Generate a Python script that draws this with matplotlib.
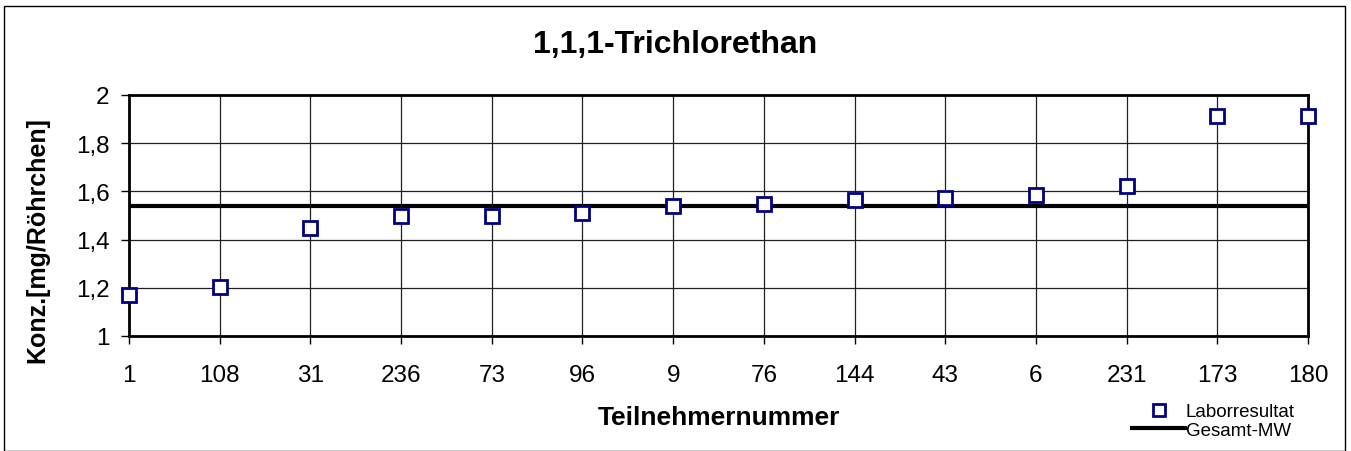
import matplotlib
matplotlib.use('Agg')
import matplotlib.pyplot as plt
from matplotlib.ticker import FuncFormatter
from matplotlib.patches import Rectangle

plt.rcParams['font.family'] = ['Liberation Sans', 'DejaVu Sans']

teilnehmer = ['1', '108', '31', '236', '73', '96', '9', '76', '144', '43', '6', '231', '173', '180']
laborresultat = [1.171, 1.202, 1.448, 1.499, 1.499, 1.510, 1.538, 1.548, 1.564, 1.571, 1.586, 1.621, 1.912, 1.912]
gesamt_mw = 1.539

W, H = 1351, 452
fig = plt.figure(figsize=(W / 100, H / 100), dpi=100)
ax = fig.add_axes([129 / W, 1 - 337 / H, (1308 - 129) / W, (337 - 96) / H])

x = list(range(len(teilnehmer)))
ax.plot(x, laborresultat, linestyle='none', marker='s', markersize=10.5,
        markerfacecolor='white', markeredgecolor='#000080', markeredgewidth=2,
        clip_on=False, zorder=4, label='Laborresultat')
ax.plot([x[0], x[-1]], [gesamt_mw, gesamt_mw], color='black', linewidth=3,
        zorder=3, label='Gesamt-MW')

ax.set_xlim(0, len(teilnehmer) - 1)
ax.set_ylim(1, 2)
ax.set_xticks(x)
ax.set_xticklabels(teilnehmer)
ax.set_yticks([1, 1.2, 1.4, 1.6, 1.8, 2])
ax.yaxis.set_major_formatter(FuncFormatter(lambda v, p: ('%g' % round(v, 1)).replace('.', ',')))
ax.tick_params(axis='both', labelsize=17.5, length=6, width=1, direction='out')
ax.tick_params(axis='x', pad=14)
ax.tick_params(axis='y', pad=8)
ax.grid(True, color='#202020', linewidth=0.9)
ax.set_axisbelow(True)
for s in ax.spines.values():
    s.set_linewidth(2)
    s.set_color('black')

fig.text(0.5, 1 - 45 / H, '1,1,1-Trichlorethan', fontsize=23, fontweight='bold',
         ha='center', va='center')
ax.set_ylabel('Konz.[mg/Röhrchen]', fontsize=18, fontweight='bold')
ax.yaxis.label.set_va('center')
ax.yaxis.set_label_coords((37 - 129) / 1179, (337 - 240) / 241)
ax.set_xlabel('Teilnehmernummer', fontsize=19, fontweight='bold')
ax.xaxis.label.set_va('center')
ax.xaxis.set_label_coords(0.5, (337 - 418) / 241)

fig.legend(loc='upper left', bbox_to_anchor=(1123 / W, 1 - 395 / H), frameon=False,
           fontsize=13.5, handlelength=2.8, handletextpad=0.05, labelspacing=0.05,
           borderpad=0, markerscale=0.8)

fig.add_artist(Rectangle((4 / W, 0.5 / H), 1341 / W, 445 / H, transform=fig.transFigure,
                         fill=False, edgecolor='black', linewidth=1))

fig.savefig('out.png', dpi=100)
